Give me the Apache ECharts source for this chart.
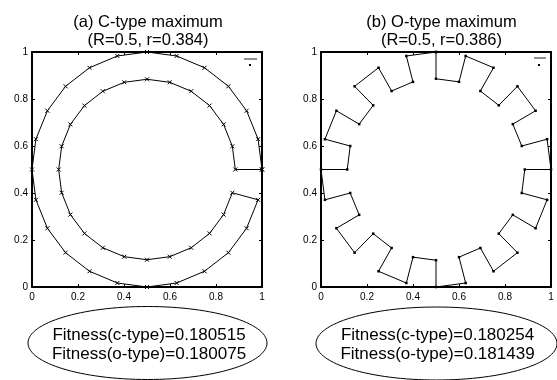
<!DOCTYPE html>
<html>
<head>
<meta charset="utf-8">
<script src="https://cdn.jsdelivr.net/npm/echarts@6/dist/echarts.min.js"></script>
<style>
html,body{margin:0;padding:0;background:#fff;}
#main{width:557px;height:380px;}
</style>
</head>
<body>
<div id="main"></div>
<script>
// ---- data ----
var panelTitles = ['(a) C-type maximum\n(R=0.5, r=0.384)', '(b) O-type maximum\n(R=0.5, r=0.386)'];
var fitnessTexts = [
  'Fitness(c-type)=0.180515\nFitness(o-type)=0.180075',
  'Fitness(c-type)=0.180254\nFitness(o-type)=0.181439'
];
var tickValues = [0, 0.2, 0.4, 0.6, 0.8, 1];

// C-type shape: outer ring 0..345 deg, then inner ring 345..0 deg, back to start
var cTypeX = [1, 0.983, 0.933, 0.854, 0.75, 0.629, 0.5, 0.371, 0.25, 0.146, 0.067, 0.017,
  0, 0.017, 0.067, 0.146, 0.25, 0.371, 0.5, 0.629, 0.75, 0.854, 0.933, 0.983,
  0.871, 0.833, 0.772, 0.692, 0.599, 0.5, 0.401, 0.308, 0.228, 0.167, 0.129, 0.116,
  0.129, 0.167, 0.228, 0.308, 0.401, 0.5, 0.599, 0.692, 0.772, 0.833, 0.871, 0.884, 1];
var cTypeY = [0.5, 0.629, 0.75, 0.854, 0.933, 0.983, 1, 0.983, 0.933, 0.854, 0.75, 0.629,
  0.5, 0.371, 0.25, 0.146, 0.067, 0.017, 0, 0.017, 0.067, 0.146, 0.25, 0.371,
  0.401, 0.308, 0.228, 0.167, 0.129, 0.116, 0.129, 0.167, 0.228, 0.308, 0.401, 0.5,
  0.599, 0.692, 0.772, 0.833, 0.871, 0.884, 0.871, 0.833, 0.772, 0.692, 0.599, 0.5, 0.5];

// O-type shape: zig-zag between outer (R) and inner (r) rings
var oTypeX = [0.5, 0.5, 0.6, 0.629, 0.75, 0.693, 0.773, 0.854, 0.933, 0.834, 0.873, 0.983,
  1, 0.886, 0.873, 0.983, 0.933, 0.834, 0.773, 0.854, 0.75, 0.693, 0.6, 0.629,
  0.5, 0.5, 0.4, 0.371, 0.25, 0.307, 0.227, 0.146, 0.067, 0.166, 0.127, 0.017,
  0, 0.114, 0.127, 0.017, 0.067, 0.166, 0.227, 0.146, 0.25, 0.307, 0.4, 0.371, 0.5];
var oTypeY = [1, 0.886, 0.873, 0.983, 0.933, 0.834, 0.773, 0.854, 0.75, 0.693, 0.6, 0.629,
  0.5, 0.5, 0.4, 0.371, 0.25, 0.307, 0.227, 0.146, 0.067, 0.166, 0.127, 0.017,
  0, 0.114, 0.127, 0.017, 0.067, 0.166, 0.227, 0.146, 0.25, 0.307, 0.4, 0.371,
  0.5, 0.5, 0.6, 0.629, 0.75, 0.693, 0.773, 0.854, 0.933, 0.834, 0.873, 0.983, 1];

function pairs(xs, ys) {
  var out = [];
  for (var i = 0; i < xs.length; i++) out.push([xs[i], ys[i]]);
  return out;
}

var FONT = '"Liberation Sans", Arial, Helvetica, sans-serif';
var grids = [
  {left: 32, top: 52, width: 230, height: 235},
  {left: 321, top: 52, width: 230, height: 235}
];

var xAxes = [], yAxes = [];
for (var g = 0; g < 2; g++) {
  var axLine = {show: true, onZero: false, lineStyle: {color: '#000', width: 2}};
  var tick = {show: true, inside: true, length: 3, lineStyle: {color: '#000', width: 1}};
  xAxes.push({type: 'value', gridIndex: g, min: 0, max: 1, interval: 0.2, position: 'bottom',
    axisLine: axLine, axisTick: tick, splitLine: {show: false},
    axisLabel: {fontFamily: FONT, fontSize: 10, color: '#000', margin: 5}});
  xAxes.push({type: 'value', gridIndex: g, min: 0, max: 1, interval: 0.2, position: 'top',
    axisLine: axLine, axisTick: tick, splitLine: {show: false}, axisLabel: {show: false}});
  yAxes.push({type: 'value', gridIndex: g, min: 0, max: 1, interval: 0.2, position: 'left',
    axisLine: axLine, axisTick: tick, splitLine: {show: false},
    axisLabel: {fontFamily: FONT, fontSize: 10, color: '#000', margin: 4}});
  yAxes.push({type: 'value', gridIndex: g, min: 0, max: 1, interval: 0.2, position: 'right',
    axisLine: axLine, axisTick: tick, splitLine: {show: false}, axisLabel: {show: false}});
}

var titleCenters = [143, 436.5];
var ellipseCenters = [147.5, 436.5];

var option = {
  animation: false,
  backgroundColor: '#fff',
  title: panelTitles.map(function (t, i) {
    return {text: t, left: titleCenters[i], top: 9, textAlign: 'center',
      textStyle: {fontFamily: FONT, fontSize: 16.5, fontWeight: 'normal', color: '#000', lineHeight: 17.5}};
  }),
  grid: grids,
  xAxis: xAxes,
  yAxis: yAxes,
  series: [
    {type: 'line', xAxisIndex: 0, yAxisIndex: 0, data: pairs(cTypeX, cTypeY),
      symbol: 'path://M0,0L10,10M10,0L0,10', symbolSize: 4, showAllSymbol: true,
      itemStyle: {color: '#000', borderColor: '#000', borderWidth: 1},
      lineStyle: {color: '#000', width: 1}, silent: true},
    {type: 'line', xAxisIndex: 2, yAxisIndex: 2, data: pairs(oTypeX, oTypeY),
      symbol: 'rect', symbolSize: 2.5, showAllSymbol: true,
      itemStyle: {color: '#000'},
      lineStyle: {color: '#000', width: 1}, silent: true}
  ],
  graphic: [
    // small legend-like marks at the top right of each box
    {type: 'line', shape: {x1: 244, y1: 59, x2: 257, y2: 59}, style: {stroke: '#222', lineWidth: 1}},
    {type: 'rect', shape: {x: 249, y: 64, width: 2, height: 2}, style: {fill: '#000'}},
    {type: 'line', shape: {x1: 534, y1: 58, x2: 546, y2: 58}, style: {stroke: '#222', lineWidth: 1}},
    {type: 'rect', shape: {x: 538, y: 64, width: 2, height: 2}, style: {fill: '#000'}},
    {type: 'ellipse', shape: {cx: ellipseCenters[0], cy: 343, rx: 119.5, ry: 36.5},
      style: {fill: 'none', stroke: '#000', lineWidth: 1}},
    {type: 'ellipse', shape: {cx: ellipseCenters[1], cy: 343.5, rx: 120.5, ry: 36.5},
      style: {fill: 'none', stroke: '#000', lineWidth: 1}},
    {type: 'text', x: 149, y: 345, style: {text: fitnessTexts[0], fontFamily: FONT, fontSize: 17,
      fill: '#000', align: 'center', verticalAlign: 'middle', lineHeight: 18.5}},
    {type: 'text', x: 437.5, y: 345, style: {text: fitnessTexts[1], fontFamily: FONT, fontSize: 17,
      fill: '#000', align: 'center', verticalAlign: 'middle', lineHeight: 18.5}}
  ]
};

var chart = echarts.init(document.getElementById('main'), null, {renderer: 'canvas'});
chart.setOption(option);
</script>
</body>
</html>
